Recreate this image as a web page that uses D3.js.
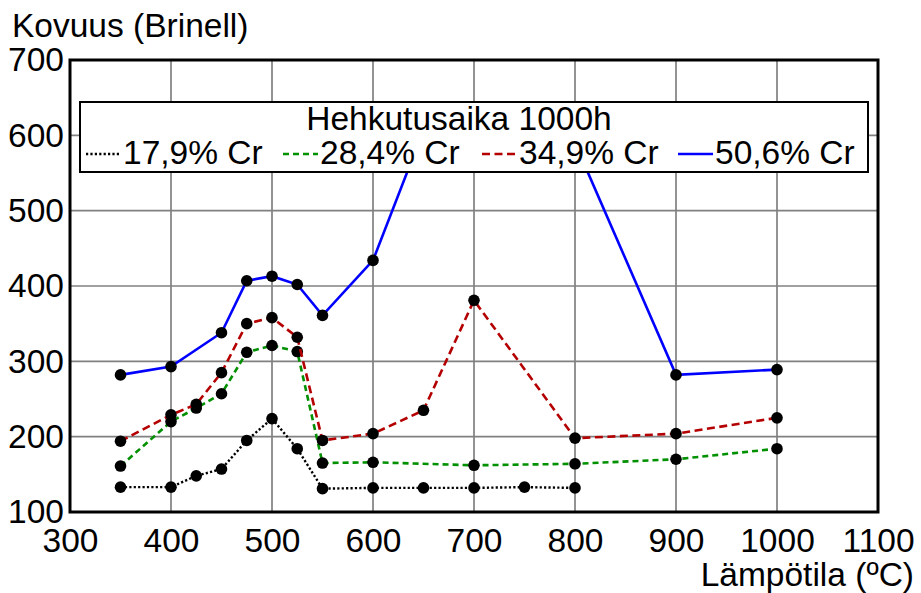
<!DOCTYPE html>
<html><head><meta charset="utf-8">
<script src="https://cdn.jsdelivr.net/npm/d3@7"></script>
<style>
body{margin:0;background:#fff;}
text{font-family:"Liberation Sans",Arial,sans-serif;fill:#000;}
</style></head>
<body>
<svg id="c" width="921" height="593"></svg>
<script>
const xTicks = [300,400,500,600,700,800,900,1000,1100];
const yTicks = [100,200,300,400,500,600,700];
const yTitle = "Kovuus (Brinell)";
const xTitle = "Lämpötila (ºC)";
const legendTitle = "Hehkutusaika 1000h";
const seriesNames = ["17,9% Cr","28,4% Cr","34,9% Cr","50,6% Cr"];

const temps179 = [350,400,425,450,475,500,525,550,600,650,700,750,800];
const hard179  = [133,133,148,157,195,224,184,131,132,132,132,133,132];
const temps284 = [350,400,425,450,475,500,525,550,600,700,800,900,1000];
const hard284  = [161,220,238,257,312,321,313,165,166,162,164,170,184];
const temps349 = [350,400,425,450,475,500,525,550,600,650,700,800,900,1000];
const hard349  = [194,229,243,285,350,358,332,195,204,235,381,198,204,225];
const temps506 = [350,400,450,475,500,525,550,600,650,700,800,900,1000];
const hard506  = [282,293,338,407,413,402,361,434,607,625,590,282,289];

const series = [
  {name:seriesNames[0], t:temps179, h:hard179, color:"#000000", dash:"2.2,2.2", width:2.4},
  {name:seriesNames[1], t:temps284, h:hard284, color:"#009000", dash:"6,4", width:2.6},
  {name:seriesNames[2], t:temps349, h:hard349, color:"#b40000", dash:"8,4.5", width:2.6},
  {name:seriesNames[3], t:temps506, h:hard506, color:"#0000ff", dash:null, width:2.6}
];

const svg = d3.select("#c");
const L=70, R=878, T=60, B=512;
const x = d3.scaleLinear().domain([300,1100]).range([L,R]);
const y = d3.scaleLinear().domain([100,700]).range([B,T]);
const FS = 33.5;

// grid
svg.append("g").selectAll("line.gx").data(xTicks.slice(1,-1)).join("line")
  .attr("x1",d=>x(d)).attr("x2",d=>x(d)).attr("y1",T).attr("y2",B)
  .attr("stroke","#808080").attr("stroke-width",1.7);
svg.append("g").selectAll("line.gy").data(yTicks.slice(1,-1)).join("line")
  .attr("y1",d=>y(d)).attr("y2",d=>y(d)).attr("x1",L).attr("x2",R)
  .attr("stroke","#808080").attr("stroke-width",1.7);

// series
series.forEach(s=>{
  const pts = s.t.map((t,i)=>[t,s.h[i]]);
  const line = d3.line().x(d=>x(d[0])).y(d=>y(d[1]));
  svg.append("path").datum(pts).attr("d",line).attr("fill","none")
    .attr("stroke",s.color).attr("stroke-width",s.width)
    .attr("stroke-dasharray",s.dash);
  svg.append("g").selectAll("circle").data(pts).join("circle")
    .attr("cx",d=>x(d[0])).attr("cy",d=>y(d[1])).attr("r",5.8).attr("fill","#000");
});

// legend
const lg = svg.append("g");
lg.append("rect").attr("x",80).attr("y",102).attr("width",788).attr("height",70)
  .attr("fill","#fff").attr("stroke","#000").attr("stroke-width",2);
lg.append("text").attr("x",459).attr("y",130).attr("text-anchor","middle")
  .attr("font-size",FS).text(legendTitle);
const legX = [86,283,482,678];
series.forEach((s,i)=>{
  lg.append("line").attr("x1",legX[i]).attr("x2",legX[i]+35).attr("y1",154).attr("y2",154)
    .attr("stroke",s.color).attr("stroke-width",s.width).attr("stroke-dasharray",s.dash);
  lg.append("text").attr("x",legX[i]+37).attr("y",164).attr("font-size",FS).text(s.name);
});

// frame
svg.append("rect").attr("x",L).attr("y",T).attr("width",R-L).attr("height",B-T)
  .attr("fill","none").attr("stroke","#000").attr("stroke-width",3);

// axes
const ax = svg.append("g").attr("transform",`translate(0,${B})`)
  .call(d3.axisBottom(x).tickValues(xTicks).tickSize(0).tickPadding(16).tickFormat(d3.format("d")));
ax.select(".domain").remove();
ax.selectAll("text").attr("font-size",FS).attr("font-family",null);
const ay = svg.append("g").attr("transform",`translate(${L},0)`)
  .call(d3.axisLeft(y).tickValues(yTicks).tickSize(0).tickPadding(6).tickFormat(d3.format("d")));
ay.select(".domain").remove();
ay.selectAll("text").attr("font-size",FS).attr("font-family",null);

svg.append("text").attr("x",12).attr("y",37).attr("font-size",FS).text(yTitle);
svg.append("text").attr("x",914).attr("y",586).attr("text-anchor","end").attr("font-size",FS).text(xTitle);
</script>
</body></html>
